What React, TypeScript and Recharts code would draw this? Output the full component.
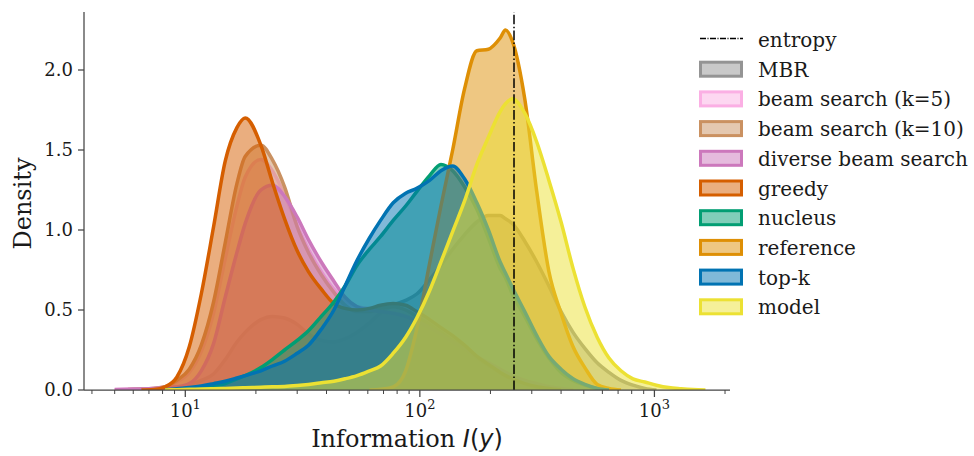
import React from 'react';
import { ComposedChart, Area, XAxis, YAxis, ReferenceLine } from 'recharts';

// information I(y) grid (log axis)
const infoValues = [4.5, 5, 5.7, 6.5, 7.3, 8.2, 9.2, 10.4, 11.7, 13.2, 14.8, 16.6, 18, 21, 23.5, 26.5, 30, 33.5, 38, 43, 48, 54, 61, 68, 77, 87, 97, 110, 123, 138, 155, 175, 196, 220, 232, 248, 280, 315, 355, 400, 450, 505, 570, 640, 720, 810, 910, 1020, 1150, 1300, 1460, 1650];

// densities (null = outside the curve's support)
const mbr = [null, null, null, null, 0, 0.005, 0.012, 0.03, 0.06, 0.1, 0.19, 0.3, 0.36, 0.44, 0.46, 0.45, 0.41, 0.35, 0.31, 0.3, 0.32, 0.36, 0.42, 0.48, 0.53, 0.56, 0.6, 0.69, 0.78, 0.88, 0.97, 1.05, 1.09, 1.09, 1.07, 1.04, 0.93, 0.8, 0.65, 0.49, 0.36, 0.26, 0.17, 0.11, 0.06, 0.03, 0.01, 0, null, null, null, null];
const beam5 = [null, 0.002, 0.004, 0.006, 0.01, 0.02, 0.05, 0.11, 0.24, 0.48, 0.82, 1.15, 1.33, 1.44, 1.37, 1.22, 1.03, 0.88, 0.74, 0.63, 0.56, 0.52, 0.51, 0.52, 0.52, 0.5, 0.47, 0.42, 0.37, 0.32, 0.27, 0.21, 0.16, 0.12, 0.1, 0.08, 0.05, 0.03, 0.015, 0.005, 0, null, null, null, null, null, null, null, null, null, null, null];
const beam10 = [null, null, 0.003, 0.006, 0.01, 0.02, 0.06, 0.13, 0.28, 0.55, 0.92, 1.29, 1.46, 1.53, 1.44, 1.27, 1.02, 0.86, 0.72, 0.61, 0.53, 0.49, 0.49, 0.51, 0.52, 0.5, 0.46, 0.41, 0.36, 0.31, 0.26, 0.2, 0.15, 0.11, 0.09, 0.07, 0.05, 0.03, 0.015, 0.005, 0, null, null, null, null, null, null, null, null, null, null, null];
const diverse = [null, 0.003, 0.005, 0.007, 0.01, 0.015, 0.02, 0.04, 0.12, 0.29, 0.58, 0.86, 1.04, 1.25, 1.28, 1.21, 1.08, 0.94, 0.8, 0.68, 0.58, 0.52, 0.5, 0.49, 0.48, 0.46, 0.43, 0.39, 0.35, 0.3, 0.26, 0.21, 0.17, 0.13, 0.11, 0.09, 0.06, 0.04, 0.02, 0.01, 0, null, null, null, null, null, null, null, null, null, null, null];
const greedy = [null, null, null, 0, 0.003, 0.02, 0.08, 0.27, 0.6, 1.02, 1.43, 1.64, 1.7, 1.53, 1.3, 1.07, 0.87, 0.74, 0.63, 0.54, 0.51, 0.5, 0.51, 0.53, 0.54, 0.53, 0.49, 0.44, 0.39, 0.34, 0.28, 0.21, 0.16, 0.11, 0.09, 0.07, 0.04, 0.02, 0.01, 0, null, null, null, null, null, null, null, null, null, null, null, null];
const nucleus = [null, null, null, null, null, null, null, 0, 0.01, 0.02, 0.04, 0.07, 0.09, 0.14, 0.19, 0.25, 0.31, 0.37, 0.46, 0.55, 0.65, 0.78, 0.88, 0.96, 1.06, 1.15, 1.24, 1.34, 1.41, 1.37, 1.27, 1.13, 0.95, 0.76, 0.7, 0.6, 0.46, 0.32, 0.2, 0.11, 0.06, 0.03, 0.01, 0, null, null, null, null, null, null, null, null];
const reference = [null, null, null, null, null, null, null, null, null, null, null, null, null, null, null, null, null, null, null, null, null, null, 0, 0.005, 0.02, 0.12, 0.38, 0.79, 1.15, 1.5, 1.88, 2.12, 2.13, 2.2, 2.25, 2.18, 1.82, 1.24, 0.74, 0.48, 0.27, 0.14, 0.035, 0.01, 0, null, null, null, null, null, null, null];
const topk = [null, null, null, null, null, 0, 0.008, 0.015, 0.025, 0.04, 0.055, 0.075, 0.09, 0.12, 0.15, 0.18, 0.23, 0.28, 0.38, 0.5, 0.65, 0.81, 0.95, 1.06, 1.17, 1.23, 1.26, 1.31, 1.37, 1.4, 1.32, 1.17, 1.0, 0.8, 0.73, 0.64, 0.49, 0.34, 0.21, 0.13, 0.07, 0.035, 0.01, 0, null, null, null, null, null, null, null, null];
const model = [null, null, null, null, null, 0, 0.002, 0.004, 0.006, 0.008, 0.01, 0.012, 0.014, 0.017, 0.02, 0.022, 0.028, 0.035, 0.045, 0.055, 0.07, 0.09, 0.12, 0.15, 0.23, 0.33, 0.45, 0.62, 0.8, 0.99, 1.18, 1.41, 1.58, 1.74, 1.79, 1.82, 1.73, 1.55, 1.31, 1.05, 0.76, 0.52, 0.33, 0.2, 0.12, 0.07, 0.05, 0.03, 0.015, 0.008, 0.003, 0];

const seriesKeys = ['mbr', 'beam5', 'beam10', 'diverse', 'greedy', 'nucleus', 'reference', 'topk', 'model'];
const seriesNames = ['MBR', 'beam search (k=5)', 'beam search (k=10)', 'diverse beam search', 'greedy', 'nucleus', 'reference', 'top-k', 'model'];
const seriesColors = ['#949494', '#fbafe4', '#ca9161', '#cc78bc', '#d55e00', '#029e73', '#de8f05', '#0173b2', '#ece133'];
const seriesValues = [mbr, beam5, beam10, diverse, greedy, nucleus, reference, topk, model];

const entropyValue = 252;
const densityTicks = [0, 0.5, 1, 1.5, 2];
const infoTicks = [4, 5, 6, 7, 8, 9, 10, 20, 30, 40, 50, 60, 70, 80, 90, 100, 200, 300, 400, 500, 600, 700, 800, 900, 1000, 2000];
const majorTicks = [10, 100, 1000];

const data = infoValues.map((x, i) => {
  const row: any = { x };
  seriesKeys.forEach((k, j) => { row[k] = seriesValues[j][i]; });
  return row;
});

const serif = 'DejaVu Serif';
const ink = '#1a1a1a';
const spine = '#444444';

const InfoTick = (props: any) => {
  const { x, y, payload } = props;
  const v = payload.value;
  const major = majorTicks.includes(v);
  return (
    <g>
      <line x1={x} x2={x} y1={y} y2={y + (major ? 7 : 4)} stroke={spine} strokeWidth={major ? 1.25 : 1} />
      {major && (
        <text x={x} y={y + 27} textAnchor="middle" fill={ink} fontFamily={serif} fontSize={18}>
          <tspan>10</tspan>
          <tspan dy={-8} fontSize={13}>{Math.round(Math.log10(v))}</tspan>
        </text>
      )}
    </g>
  );
};

export default function App() {
  return (
    <div style={{ position: 'absolute', left: 0, top: 0, width: 974, height: 456, background: '#fff' }}>
      <ComposedChart width={974} height={456} data={data} margin={{ top: 12, right: 244, bottom: 0, left: 0 }}>
        <XAxis
          dataKey="x"
          type="number"
          scale="log"
          domain={[3.7, 2100]}
          allowDataOverflow
          ticks={infoTicks}
          interval={0}
          height={66}
          tickLine={false}
          tickSize={0}
          tickMargin={0}
          tick={(p: any) => <InfoTick {...p} />}
          axisLine={{ stroke: spine, strokeWidth: 1.25 }}
        />
        <YAxis
          type="number"
          domain={[0, 2.3625]}
          allowDataOverflow
          ticks={densityTicks}
          interval={0}
          width={84}
          tickFormatter={(v: number) => v.toFixed(1)}
          tick={{ fill: ink, fontSize: 18, fontFamily: serif }}
          tickSize={6}
          tickMargin={5}
          tickLine={{ stroke: spine, strokeWidth: 1.25 }}
          axisLine={{ stroke: spine, strokeWidth: 1.25 }}
        />
        {seriesKeys.map((k, i) => (
          <Area
            key={k}
            dataKey={k}
            name={seriesNames[i]}
            type="monotone"
            stroke={seriesColors[i]}
            strokeWidth={3.5}
            fill={seriesColors[i]}
            fillOpacity={0.5}
            dot={false}
            activeDot={false}
            isAnimationActive={false}
          />
        ))}
        <ReferenceLine x={entropyValue} stroke="#000" strokeWidth={1.5} strokeDasharray="9.6 2.4 1.5 2.4" />
      </ComposedChart>
      <svg width={974} height={456} style={{ position: 'absolute', left: 0, top: 0, pointerEvents: 'none' }}>
        <text transform="translate(31,203.5) rotate(-90)" textAnchor="middle" fill={ink} fontFamily={serif} fontSize={24}>
          Density
        </text>
        <text x={407} y={447} textAnchor="middle" fill={ink} fontFamily={serif} fontSize={24}>
          Information{' '}
          <tspan fontFamily="DejaVu Sans" fontStyle="italic">I</tspan>
          <tspan fontFamily="DejaVu Sans">(</tspan>
          <tspan fontFamily="DejaVu Sans" fontStyle="italic">y</tspan>
          <tspan fontFamily="DejaVu Sans">)</tspan>
        </text>
        <line x1={700} x2={743} y1={38.5} y2={38.5} stroke="#000" strokeWidth={1.5} strokeDasharray="6 1.5 1 1.5" />
        <text x={758} y={47} fill={ink} fontFamily={serif} fontSize={20}>entropy</text>
        {seriesNames.map((name, i) => {
          const cy = 69.2 + i * 29.7;
          return (
            <g key={name}>
              <rect x={700.5} y={cy - 7} width={41} height={14} fill={seriesColors[i]} fillOpacity={0.5} stroke={seriesColors[i]} strokeWidth={3} />
              <text x={758} y={cy + 7.5} fill={ink} fontFamily={serif} fontSize={20}>{name}</text>
            </g>
          );
        })}
      </svg>
    </div>
  );
}
